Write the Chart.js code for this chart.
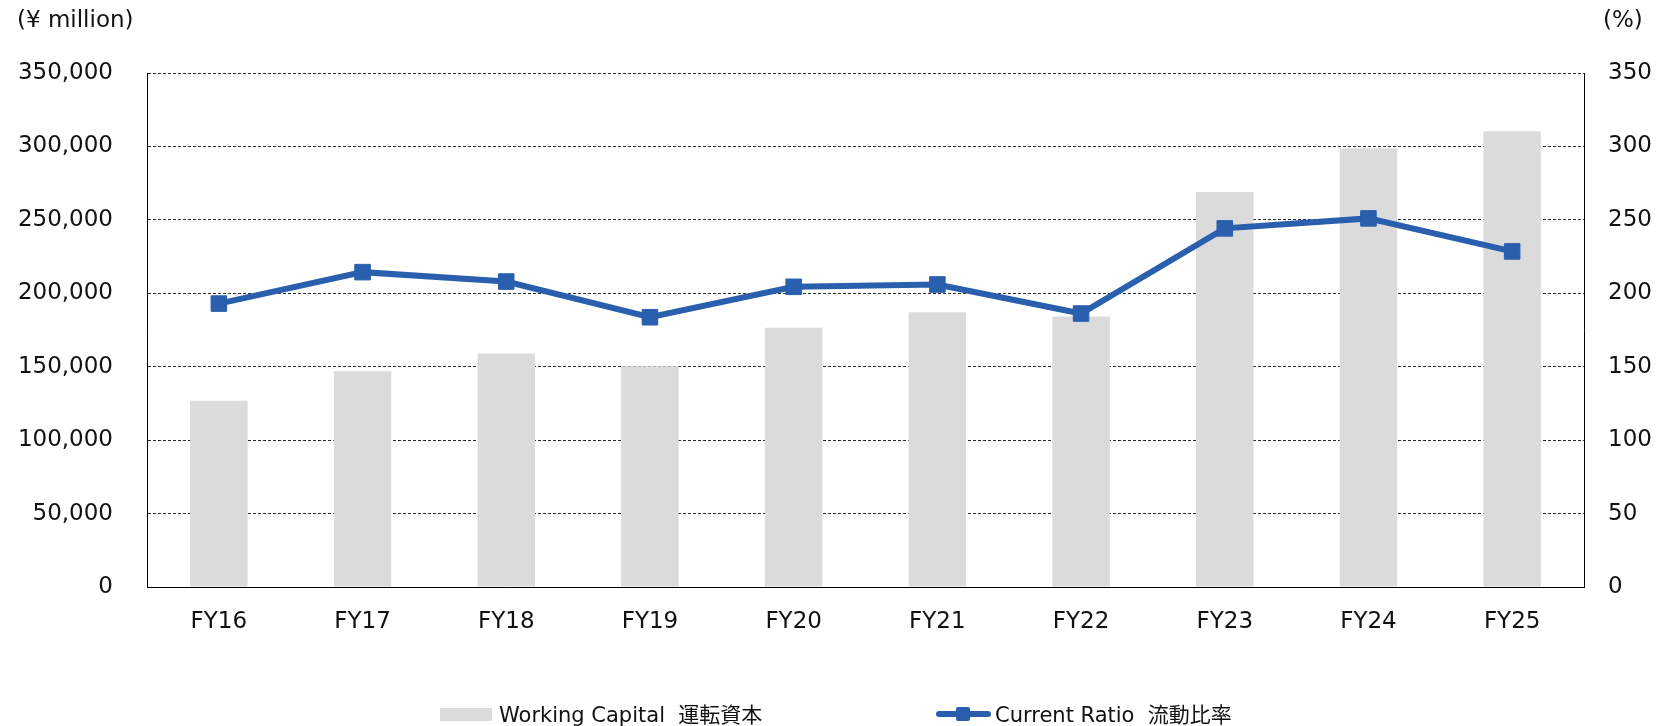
<!DOCTYPE html>
<html>
<head>
<meta charset="utf-8">
<script src="https://cdn.jsdelivr.net/npm/chart.js@4"></script>
<style>
html,body{margin:0;padding:0;background:#fff;}
#wrap{position:relative;width:1657px;height:726px;}
#legend{position:absolute;left:0;top:0;width:1657px;height:726px;pointer-events:none;
  font-family:"DejaVu Sans","Noto Sans CJK JP",sans-serif;font-size:21px;color:#111;}
.lg{position:absolute;white-space:pre;line-height:22px;}
.sw{position:absolute;}
</style>
</head>
<body>
<div id="wrap">
<canvas id="c" width="1657" height="726"></canvas>
<div id="legend"></div>
</div>
<script>
const categories = ["FY16","FY17","FY18","FY19","FY20","FY21","FY22","FY23","FY24","FY25"];
const workingCapital = [126900, 146900, 159000, 150300, 176500, 187100, 184200, 268900, 298800, 310400];
const currentRatio = [193.0, 214.4, 208.0, 183.7, 204.4, 206.0, 186.2, 244.2, 251.0, 228.5];
const leftTicks = [0, 50000, 100000, 150000, 200000, 250000, 300000, 350000];
const rightTicks = [0, 50, 100, 150, 200, 250, 300, 350];
const seriesLabels = ["Working Capital  運転資本", "Current Ratio  流動比率"];
const axisUnits = ["(¥ million)", "(%)"];

const BAR = '#dbdbdb', LINE = '#2a5fad', TXT = '#111';
const FONT = '"DejaVu Sans", "Noto Sans CJK JP", sans-serif';

const unitPlugin = {
  id: 'units',
  afterDraw(chart) {
    const ctx = chart.ctx;
    ctx.save();
    ctx.fillStyle = TXT;
    ctx.font = '23px ' + FONT;
    ctx.textBaseline = 'alphabetic';
    ctx.textAlign = 'left';
    ctx.fillText(axisUnits[0], 17, 27);
    ctx.fillText(axisUnits[1], 1603, 27);
    ctx.restore();
  }
};

const chart = new Chart(document.getElementById('c'), {
  data: {
    labels: categories,
    datasets: [
      {
        type: 'line', label: seriesLabels[1], data: currentRatio, yAxisID: 'y2',
        borderColor: LINE, backgroundColor: LINE, borderWidth: 6,
        pointStyle: 'rect', pointRadius: 11, pointHoverRadius: 11,
        pointBackgroundColor: LINE, pointBorderColor: LINE, pointBorderWidth: 1,
        tension: 0, order: 0
      },
      {
        type: 'bar', label: seriesLabels[0], data: workingCapital, yAxisID: 'y',
        backgroundColor: BAR, borderWidth: 0,
        barPercentage: 0.4, categoryPercentage: 1.0, order: 1
      }
    ]
  },
  options: {
    responsive: false,
    animation: false,
    devicePixelRatio: 1,
    layout: { padding: { top: 73, left: 0, right: 0, bottom: 0 } },
    plugins: { legend: { display: false }, tooltip: { enabled: false }, title: { display: false } },
    scales: {
      x: {
        grid: { display: false, drawTicks: false },
        border: { display: true, color: '#000', width: 1 },
        ticks: { color: TXT, font: { family: FONT, size: 23 }, padding: 21, maxRotation: 0 },
        afterFit(s) { s.height = 139; }
      },
      y: {
        position: 'left', min: 0, max: 350000,
        afterBuildTicks(s) { s.ticks = leftTicks.map(v => ({ value: v })); },
        grid: { color: '#2a2a2a', lineWidth: 1, drawTicks: false },
        border: { display: true, color: '#000', width: 1, dash: [3, 2] },
        ticks: { color: TXT, font: { family: FONT, size: 23 }, padding: 34,
          callback: v => v.toLocaleString('en-US') },
        afterFit(s) { s.width = 147; }
      },
      y2: {
        position: 'right', min: 0, max: 350,
        afterBuildTicks(s) { s.ticks = rightTicks.map(v => ({ value: v })); },
        grid: { display: false, drawTicks: false },
        border: { display: true, color: '#000', width: 1 },
        ticks: { color: TXT, font: { family: FONT, size: 23 }, padding: 24 },
        afterFit(s) { s.width = 73; }
      }
    }
  },
  plugins: [unitPlugin]
});

// HTML legend built from datasets
const lg = document.getElementById('legend');
function addEl(cls, style, text){ const d=document.createElement('div'); d.className=cls; Object.assign(d.style, style); if(text!==undefined) d.textContent=text; lg.appendChild(d); return d; }
const barDs = chart.data.datasets[1], lineDs = chart.data.datasets[0];
addEl('sw', {left:'440px', top:'708px', width:'52px', height:'13px', background: barDs.backgroundColor});
addEl('lg', {left:'499px', top:'704px'}, barDs.label);
addEl('sw', {left:'936px', top:'711px', width:'55px', height:'6px', background: lineDs.borderColor, borderRadius:'3px'});
addEl('sw', {left:'956px', top:'707px', width:'14px', height:'14px', background: lineDs.borderColor, borderRadius:'2px'});
addEl('lg', {left:'995px', top:'704px'}, lineDs.label);
</script>
</body>
</html>
